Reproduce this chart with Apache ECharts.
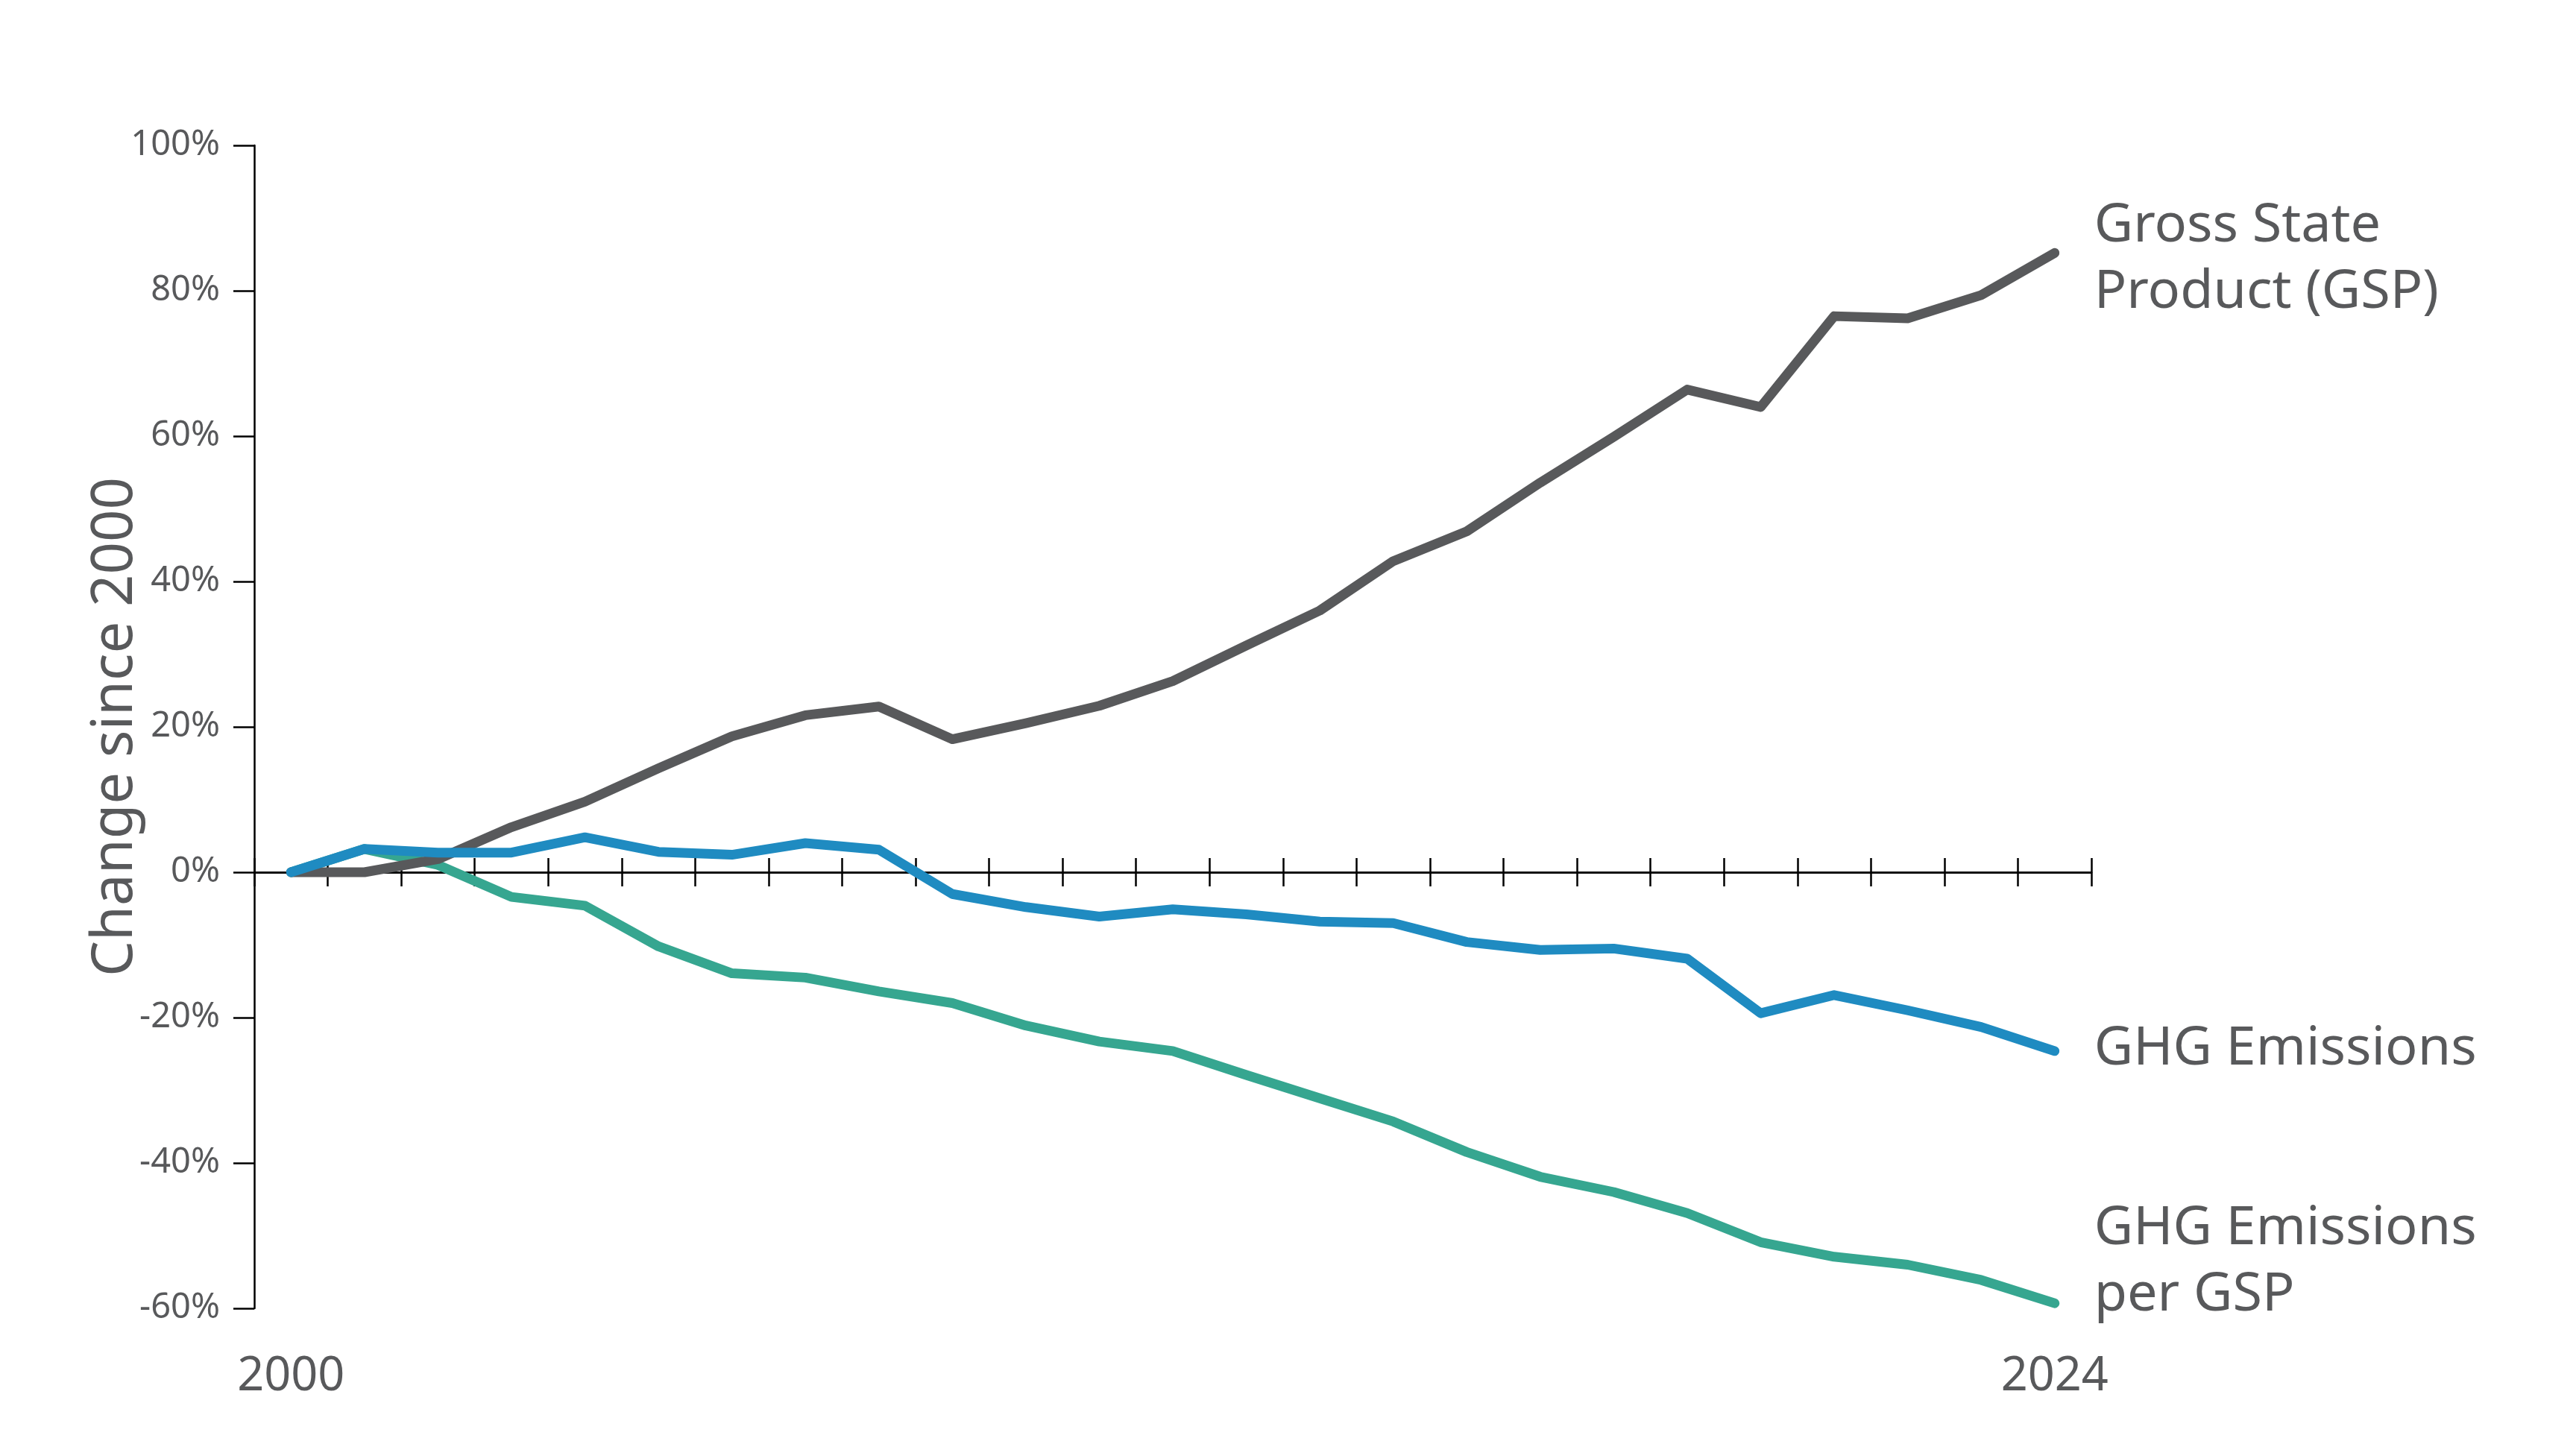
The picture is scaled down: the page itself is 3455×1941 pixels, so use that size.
<!DOCTYPE html>
<html>
<head>
<meta charset="utf-8">
<title>Change since 2000</title>
<script src="https://cdn.jsdelivr.net/npm/echarts@6/dist/echarts.min.js"></script>
<style>
    html, body, #main {
        width: 100%;
        height: 100%;
        margin: 0;
        background: #fff;
    }
</style>
</head>
<body>
<div id="main"></div>
<script>

// years on the x axis
let years = ['2000', '2001', '2002', '2003', '2004', '2005', '2006', '2007', '2008', '2009',
    '2010', '2011', '2012', '2013', '2014', '2015', '2016', '2017', '2018', '2019',
    '2020', '2021', '2022', '2023', '2024'];

// percent change since 2000
let gsp = [0, 0, 1.8, 6.2, 9.7, 14.3, 18.7, 21.6, 22.8, 18.3, 20.5, 22.9, 26.3,
    31.2, 36.0, 42.8, 46.9, 53.6, 59.9, 66.4, 64.0, 76.5, 76.2, 79.4, 85.2];
let ghg = [0, 3.2, 2.7, 2.7, 4.8, 2.8, 2.4, 4.0, 3.1, -3.0, -4.8, -6.1, -5.1,
    -5.8, -6.8, -7.0, -9.6, -10.7, -10.5, -11.9, -19.4, -16.9, -19.0, -21.3, -24.6];
let ghgPerGsp = [0, 3.2, 1.0, -3.4, -4.6, -10.2, -13.9, -14.5, -16.4, -18.0, -21.1, -23.3, -24.6,
    -27.9, -31.1, -34.3, -38.5, -41.9, -44.0, -46.9, -50.9, -52.9, -54.0, -56.1, -59.3];

// only the first and last year get a label
let shownYears = ['2000', '2024'];

let font = 'Noto Sans';
let grey = '#58595b';

var myChart = echarts.init(document.getElementById('main'));

function endLabel(text, dy) {
    return {
        show: true,
        formatter: text,
        distance: 53,
        offset: [0, dy],
        color: grey,
        fontFamily: font,
        fontSize: 72,
        lineHeight: 89,
        align: 'left',
        verticalAlign: 'middle'
    };
}

option = {
    animation: false,
    backgroundColor: '#fff',
    grid: {
        left: 341,
        right: 650,
        top: 195,
        bottom: 186,
        outerBoundsMode: 'none'
    },
    xAxis: [
        {
            // axis line through zero, ticks pointing down
            type: 'category',
            data: years,
            position: 'bottom',
            boundaryGap: true,
            axisLine: {onZero: true, onZeroAxisIndex: 0, lineStyle: {color: '#000', width: 2.5}},
            axisTick: {show: true, interval: 0, length: 19, lineStyle: {color: '#000', width: 2.5}},
            axisLabel: {show: false},
            splitLine: {show: false}
        },
        {
            // same line, ticks pointing up
            type: 'category',
            data: years,
            position: 'top',
            boundaryGap: true,
            axisLine: {onZero: true, onZeroAxisIndex: 0, lineStyle: {color: '#000', width: 2.5}},
            axisTick: {show: true, interval: 0, length: 19, lineStyle: {color: '#000', width: 2.5}},
            axisLabel: {show: false},
            splitLine: {show: false}
        },
        {
            // year labels below the plot
            type: 'category',
            data: years,
            position: 'bottom',
            boundaryGap: true,
            axisLine: {show: false, onZero: false},
            axisTick: {show: false},
            axisLabel: {
                show: true,
                interval: function (i, v) { return shownYears.indexOf(v) >= 0; },
                margin: 61,
                color: grey,
                fontFamily: font,
                fontSize: 63
            },
            splitLine: {show: false}
        }
    ],
    yAxis: {
        type: 'value',
        min: -60,
        max: 100,
        interval: 20,
        name: 'Change since 2000',
        nameLocation: 'middle',
        nameGap: 148,
        nameMoveOverlap: false,
        nameRotate: 90,
        nameTextStyle: {color: grey, fontFamily: font, fontSize: 76},
        axisLine: {show: true, onZero: false, lineStyle: {color: '#000', width: 2.5}},
        axisTick: {show: true, length: 28, lineStyle: {color: '#000', width: 2.5}},
        axisLabel: {
            formatter: '{value}%',
            margin: 46,
            color: grey,
            fontFamily: font,
            fontSize: 47
        },
        splitLine: {show: false}
    },
    series: [
        {
            name: 'GHG Emissions per GSP',
            type: 'line',
            data: ghgPerGsp,
            showSymbol: false,
            lineStyle: {color: '#36a690', width: 13, cap: 'round', join: 'round'},
            itemStyle: {color: '#36a690'},
            endLabel: endLabel('GHG Emissions\nper GSP', -55)
        },
        {
            name: 'Gross State Product (GSP)',
            type: 'line',
            data: gsp,
            showSymbol: false,
            lineStyle: {color: '#58595b', width: 13, cap: 'round', join: 'round'},
            itemStyle: {color: '#58595b'},
            endLabel: endLabel('Gross State\nProduct (GSP)', 9)
        },
        {
            name: 'GHG Emissions',
            type: 'line',
            data: ghg,
            showSymbol: false,
            lineStyle: {color: '#1f8bc1', width: 13, cap: 'round', join: 'round'},
            itemStyle: {color: '#1f8bc1'},
            endLabel: endLabel('GHG Emissions', -2)
        }
    ]
};
myChart.setOption(option);

</script>
</body>
</html>
